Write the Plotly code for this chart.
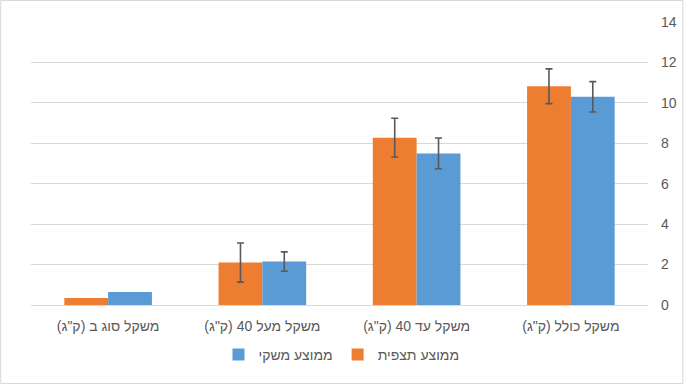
import plotly.graph_objects as go

RLM = "\u200f"
categories = ['משקל סוג ב (ק"ג)', 'משקל מעל 40 (ק"ג)', 'משקל עד 40 (ק"ג)', 'משקל כולל (ק"ג)']
obs_name = "ממוצע תצפית"
hh_name = "ממוצע משקי"
obs_values = [0.35, 2.1, 8.28, 10.82]
obs_err = ["NaN", 0.97, 0.96, 0.86]
hh_values = [0.64, 2.15, 7.5, 10.3]
hh_err = ["NaN", 0.48, 0.76, 0.75]
y_ticks = [0, 2, 4, 6, 8, 10, 12, 14]

cats = [RLM + c + RLM for c in categories]
font_family = "Liberation Sans, DejaVu Sans, Arial, sans-serif"
gray = "#595959"

fig = go.Figure()
fig.add_trace(go.Bar(
    x=cats, y=obs_values, name=obs_name,
    marker=dict(color="#ED7D31", line=dict(width=0)),
    error_y=dict(type="data", array=obs_err, visible=True, color="#595959", thickness=1.6, width=3.5),
))
fig.add_trace(go.Bar(
    x=cats, y=hh_values, name=hh_name,
    marker=dict(color="#5B9BD5", line=dict(width=0)),
    error_y=dict(type="data", array=hh_err, visible=True, color="#595959", thickness=1.6, width=3.5),
))

W, H = 689, 386
ml, mr, mt, mb = 31, 38, 22, 81
pw, ph = W - ml - mr, H - mt - mb

fig.update_layout(
    width=W, height=H,
    margin=dict(l=ml, r=mr, t=mt, b=mb),
    barmode="group", bargap=0.432, bargroupgap=0,
    paper_bgcolor="white", plot_bgcolor="white",
    font=dict(family=font_family, size=14, color=gray),
    showlegend=True,
    legend=dict(orientation="h", traceorder="reversed", x=(343 - ml) / pw, xanchor="center",
                y=-50 / ph, yanchor="middle", font=dict(size=14, color=gray),
                bgcolor="rgba(0,0,0,0)"),
    xaxis=dict(showgrid=False, showline=True, linecolor="#d9d9d9", linewidth=1.2,
               ticks="", tickfont=dict(size=14, color=gray), ticklabelstandoff=8),
    yaxis=dict(side="right", range=[0, 14], tickvals=y_ticks, showgrid=True,
               gridcolor="#d9d9d9", gridwidth=1.2, zeroline=False, showline=False,
               ticks="", tickfont=dict(size=14, color=gray), ticklabelstandoff=12),
    shapes=[dict(type="rect", xref="paper", yref="paper",
                 x0=(-ml + 0.5) / pw, x1=(pw + 35) / pw,
                 y0=(-mb + 2.5) / ph, y1=(ph + mt - 0.5) / ph,
                 line=dict(color="#d9d9d9", width=1), layer="below")],
)

fig.write_html("out.html", config={"displayModeBar": False},
               post_script="document.body.style.margin='0';")
